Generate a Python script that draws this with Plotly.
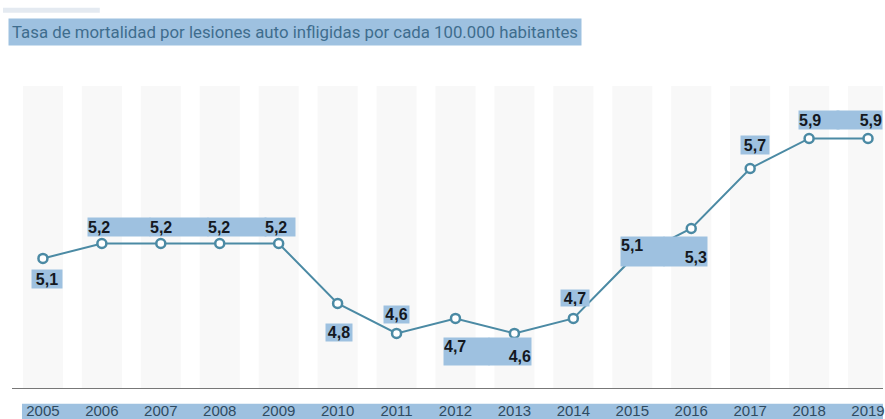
import plotly.graph_objects as go

years = [2005, 2006, 2007, 2008, 2009, 2010, 2011, 2012, 2013, 2014, 2015, 2016, 2017, 2018, 2019]
rates = [5.1, 5.2, 5.2, 5.2, 5.2, 4.8, 4.6, 4.7, 4.6, 4.7, 5.1, 5.3, 5.7, 5.9, 5.9]
rate_labels = ["5,1", "5,2", "5,2", "5,2", "5,2", "4,8", "4,6", "4,7", "4,6", "4,7", "5,1", "5,3", "5,7", "5,9", "5,9"]
title_text = "Tasa de mortalidad por lesiones auto infligidas por cada 100.000 habitantes"

# label placement styles: (xshift, yshift, box width, box height, align, valign)
label_styles = [
    (4, -21, 30, 18, "center", "middle"),
    (17, 16, 62, 18, "left", "middle"),
    (18, 16, 58, 18, "left", "middle"),
    (17, 16, 58, 18, "left", "middle"),
    (1, 16, 30, 18, "left", "middle"),
    (1, -29, 26, 17, "center", "middle"),
    (0, 19, 25, 17, "center", "middle"),
    (11, -33, 45, 27, "left", "top"),
    (-4, -18, 42, 27, "right", "bottom"),
    (2, 20, 28, 16, "center", "middle"),
    (10, 7, 43, 29, "left", "top"),
    (-6, -23, 43, 29, "right", "bottom"),
    (5, 23, 28, 18, "center", "middle"),
    (10, 18, 40, 18, "left", "middle"),
    (-9, 18, 45, 18, "right", "middle"),
]

HL = "#9ec1e0"
LINE = "#4b8aa4"
W, H = 885, 419
ML, MR, MT, MB = 12, 0, 86, 28
pw = W - ML - MR
ph = H - MT - MB


def px_x(px):
    return (px - ML) / pw


def px_y(py):
    return 1 - (py - MT) / ph


fig = go.Figure()

fig.add_trace(go.Scatter(
    x=years, y=rates, mode="lines+markers",
    line=dict(color=LINE, width=2),
    marker=dict(symbol="circle", size=9, color="white", line=dict(color=LINE, width=2.5)),
    hoverinfo="skip", showlegend=False, cliponaxis=False,
))

shapes = []
for yr in years:
    shapes.append(dict(type="rect", xref="x", yref="paper", x0=yr - 0.34, x1=yr + 0.34,
                       y0=0, y1=1, fillcolor="#f8f8f8", line=dict(width=0), layer="below"))
# x tick label highlight band
shapes.append(dict(type="rect", xref="paper", yref="paper", x0=px_x(22), x1=1.0,
                   y0=px_y(425), y1=px_y(407), fillcolor=HL,
                   line=dict(width=0), layer="below"))
# faint top-left bar
shapes.append(dict(type="rect", xref="paper", yref="paper", x0=px_x(3), x1=px_x(100),
                   y0=px_y(12), y1=px_y(7), fillcolor="#e4eaf1",
                   line=dict(width=0), layer="below"))

annotations = []
for yr, v, t, st in zip(years, rates, rate_labels, label_styles):
    xs, ys, bw, bh, al, va = st
    annotations.append(dict(
        x=yr, y=v, xref="x", yref="y", text=t, showarrow=False,
        xshift=xs, yshift=ys, width=bw, height=bh, align=al, valign=va,
        bgcolor=HL, borderpad=0,
        font=dict(family="Liberation Sans, Arial, sans-serif", size=16, color="#141820", weight="bold"),
    ))

annotations.append(dict(
    x=px_x(8), y=px_y(31), xref="paper", yref="paper",
    xanchor="left", yanchor="middle", text=title_text, showarrow=False,
    bgcolor=HL, borderpad=3,
    font=dict(family="Roboto, sans-serif", size=16.8, color="#3e6d8e"),
))

fig.update_layout(
    width=W, height=H,
    margin=dict(l=ML, r=MR, t=MT, b=MB),
    paper_bgcolor="white", plot_bgcolor="white",
    shapes=shapes, annotations=annotations,
    xaxis=dict(range=[2005 - 31 / 59.07, 2019 + 15 / 59.07], tickmode="array", tickvals=years,
               ticktext=[str(y) for y in years], showgrid=False, zeroline=False,
               showline=True, linecolor="#777777", linewidth=1, ticks="",
               ticklabelstandoff=9, ticklabeloverflow="allow",
               tickfont=dict(family="Liberation Sans, Arial, sans-serif", size=15, color="#2f4b60")),
    yaxis=dict(range=[4.236, 6.25], visible=False, showgrid=False, zeroline=False),
)

fig.write_html(
    "out.html",
    config={"displayModeBar": False},
    post_script="document.documentElement.style.overflow='hidden';"
                "document.body.style.margin='0';document.body.style.overflow='hidden';",
)
